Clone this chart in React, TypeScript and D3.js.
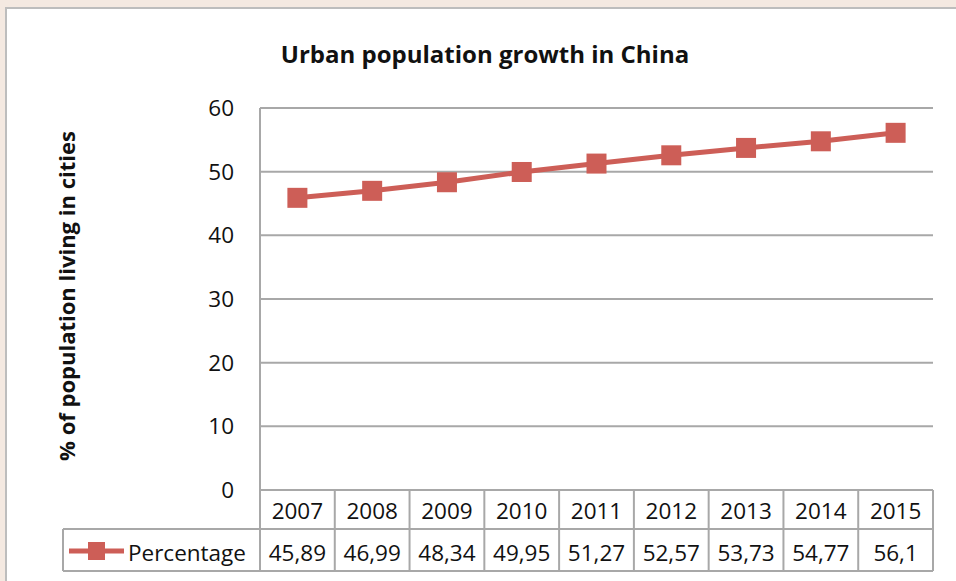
import React from "react";
import * as d3 from "d3";

const years = ["2007", "2008", "2009", "2010", "2011", "2012", "2013", "2014", "2015"];
const percentage = [45.89, 46.99, 48.34, 49.95, 51.27, 52.57, 53.73, 54.77, 56.1];
const valueLabels = ["45,89", "46,99", "48,34", "49,95", "51,27", "52,57", "53,73", "54,77", "56,1"];
const yTicks = [0, 10, 20, 30, 40, 50, 60];

const W = 956;
const H = 581;
const font = "'Open Sans', 'Noto Sans', sans-serif";
const red = "#cd5e57";
const grid = "#a8a8a8";

const App = () => {
  // plot area
  const left = 260;
  const right = 933;
  const top = 108;
  const bottom = 490;
  const rowH = 39;
  const legendLeft = 63;

  const x = d3.scaleBand<string>().domain(years).range([left, right]).padding(0);
  const y = d3.scaleLinear().domain([0, 60]).range([bottom, top]);

  const line = d3
    .line<number>()
    .x((d, i) => x(years[i])! + x.bandwidth() / 2)
    .y((d) => y(d));

  const row1 = bottom;
  const row2 = bottom + rowH;
  const row3 = bottom + rowH * 2 + 3;
  const m = 20; // marker size

  return (
    <svg
      width={W}
      height={H}
      style={{ position: "absolute", left: 0, top: 0, display: "block" }}
    >
      {/* backdrop behind the chart frame */}
      <rect x={0} y={0} width={W} height={H} fill="#f4e9e1" />
      <rect x={6} y={8} width={W} height={H} fill="#fff" stroke="#bdbdbd" strokeWidth={2} />

      <text
        x={485}
        y={63}
        textAnchor="middle"
        fontFamily={font}
        fontWeight="bold"
        fontSize={24}
        fill="#111"
      >
        Urban population growth in China
      </text>

      {/* grid lines */}
      {yTicks.map((t) => (
        <line key={t} x1={left} x2={right} y1={y(t)} y2={y(t)} stroke={grid} strokeWidth={2} />
      ))}
      <line x1={left} x2={left} y1={top} y2={row3} stroke={grid} strokeWidth={2} />

      {/* y tick labels */}
      {yTicks.map((t) => (
        <text
          key={t}
          x={234}
          y={y(t)}
          dy="0.35em"
          textAnchor="end"
          fontFamily={font}
          fontSize={22.5}
          fill="#111"
        >
          {t}
        </text>
      ))}

      <text
        transform={`translate(75,${(top + bottom) / 2 - 3}) rotate(-90)`}
        textAnchor="middle"
        fontFamily={font}
        fontWeight="bold"
        fontSize={22}
        fill="#111"
      >
        % of population living in cities
      </text>

      {/* data table */}
      <line x1={left} x2={right} y1={row1} y2={row1} stroke={grid} strokeWidth={2} />
      <line x1={legendLeft} x2={right} y1={row2} y2={row2} stroke={grid} strokeWidth={2} />
      <line x1={legendLeft} x2={right} y1={row3} y2={row3} stroke={grid} strokeWidth={2} />
      <line x1={legendLeft} x2={legendLeft} y1={row2} y2={row3} stroke={grid} strokeWidth={2} />
      {years.map((yr) => (
        <line
          key={yr}
          x1={x(yr)! + x.bandwidth()}
          x2={x(yr)! + x.bandwidth()}
          y1={row1}
          y2={row3}
          stroke={grid}
          strokeWidth={2}
        />
      ))}
      {years.map((yr) => (
        <text
          key={yr}
          x={x(yr)! + x.bandwidth() / 2}
          y={row1 + 29}
          textAnchor="middle"
          fontFamily={font}
          fontSize={22.5}
          fill="#111"
        >
          {yr}
        </text>
      ))}
      {valueLabels.map((v, i) => (
        <text
          key={i}
          x={x(years[i])! + x.bandwidth() / 2}
          y={row2 + 32}
          textAnchor="middle"
          fontFamily={font}
          fontSize={22.5}
          fill="#111"
        >
          {v}
        </text>
      ))}

      {/* legend key */}
      <line x1={69} x2={124} y1={row2 + 22} y2={row2 + 22} stroke={red} strokeWidth={5} />
      <rect x={88} y={row2 + 13} width={17} height={18} fill={red} />
      <text x={128} y={row2 + 32} fontFamily={font} fontSize={22.5} fill="#111">
        Percentage
      </text>

      {/* series */}
      <path d={line(percentage)!} fill="none" stroke={red} strokeWidth={5} />
      {percentage.map((v, i) => (
        <rect
          key={i}
          x={x(years[i])! + x.bandwidth() / 2 - m / 2}
          y={y(v) - m / 2}
          width={m}
          height={m}
          fill={red}
        />
      ))}
    </svg>
  );
};

export default App;
